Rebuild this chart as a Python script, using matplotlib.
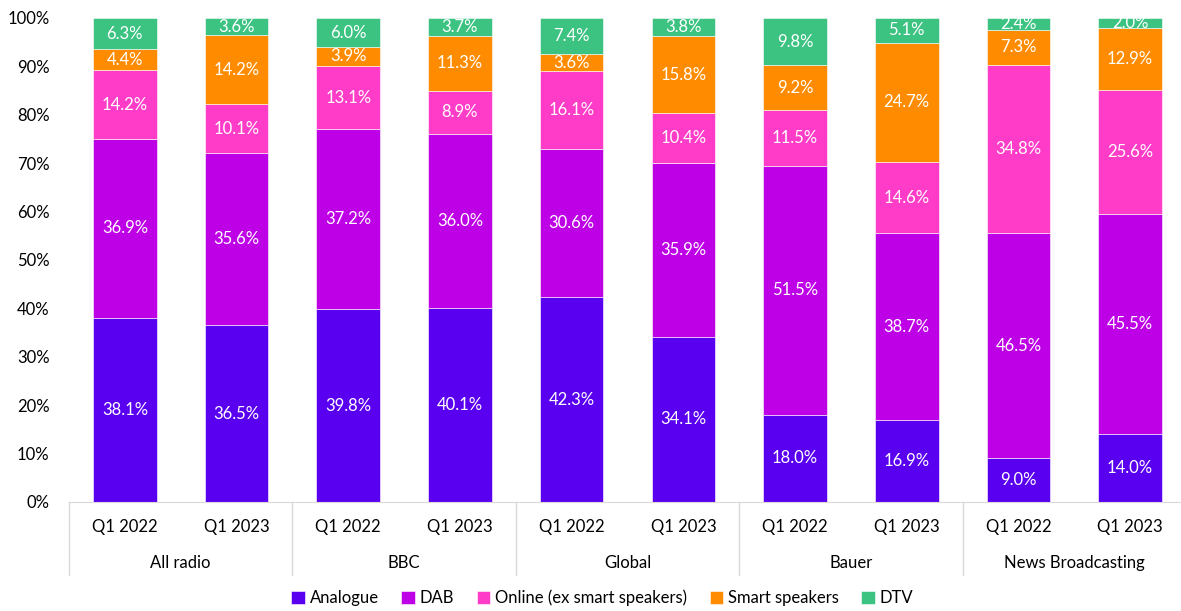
import matplotlib.pyplot as plt
import numpy as np

plt.rcParams['font.family'] = ['Lato', 'DejaVu Sans']

groups = ["All radio", "BBC", "Global", "Bauer", "News Broadcasting"]
periods = ["Q1 2022", "Q1 2023"]
series = ["Analogue", "DAB", "Online (ex smart speakers)", "Smart speakers", "DTV"]
colors = ["#5A00F0", "#BE00E6", "#FF3CC8", "#FF8C00", "#3CC382"]

# one list per series, bars in order: group x period
analogue = [38.1, 36.5, 39.8, 40.1, 42.3, 34.1, 18.0, 16.9, 9.0, 14.0]
dab = [36.9, 35.6, 37.2, 36.0, 30.6, 35.9, 51.5, 38.7, 46.5, 45.5]
online = [14.2, 10.1, 13.1, 8.9, 16.1, 10.4, 11.5, 14.6, 34.8, 25.6]
smart = [4.4, 14.2, 3.9, 11.3, 3.6, 15.8, 9.2, 24.7, 7.3, 12.9]
dtv = [6.3, 3.6, 6.0, 3.7, 7.4, 3.8, 9.8, 5.1, 2.4, 2.0]

values = [analogue, dab, online, smart, dtv]

fig = plt.figure(figsize=(11.81, 6.11), dpi=100)
W, H = 1181, 611
ax = fig.add_axes([69 / W, 1 - 502 / H, (1186 - 69) / W, (502 - 18) / H])

x = np.arange(len(analogue))
bottom = np.zeros(len(x))
for name, vals, col in zip(series, values, colors):
    vals = np.array(vals)
    ax.bar(x, vals, 0.57, bottom=bottom, color=col, label=name,
           edgecolor="white", linewidth=0.4)
    for xi, b, v in zip(x, bottom, vals):
        ax.text(xi, b + v / 2, f"{v:.1f}%", ha="center", va="center",
                color="white", fontsize=12)
    bottom += vals

ax.set_xlim(-0.5, len(x) - 0.5)
ax.set_ylim(0, 100)
ax.set_yticks(np.arange(0, 101, 10))
ax.set_yticklabels([f"{v}%" for v in range(0, 101, 10)])
ax.tick_params(axis="y", length=0, labelsize=12, pad=14)
ax.set_xticks([])
for s in ["top", "right", "left"]:
    ax.spines[s].set_visible(False)
ax.spines["bottom"].set_color("#D9D9D9")

# two-level category axis
trans = ax.get_xaxis_transform()
for i, lab in enumerate(periods * len(groups)):
    ax.text(i, -0.052, lab, transform=trans, ha="center", va="center", fontsize=12)
for g, name in enumerate(groups):
    ax.text(2 * g + 0.5, -0.126, name, transform=trans, ha="center", va="center", fontsize=12)
for b in range(len(groups) + 1):
    ax.plot([2 * b - 0.5, 2 * b - 0.5], [0, -0.15], transform=trans,
            color="#D9D9D9", linewidth=1, clip_on=False)

handles, labels = ax.get_legend_handles_labels()
fig.legend(handles, labels, loc="center", bbox_to_anchor=(0.510, 1 - 598 / H),
           ncol=5, frameon=False, fontsize=12, handlelength=0.8, handleheight=0.8,
           handletextpad=0.3, columnspacing=1.35)

fig.savefig("out.png", dpi=100)
